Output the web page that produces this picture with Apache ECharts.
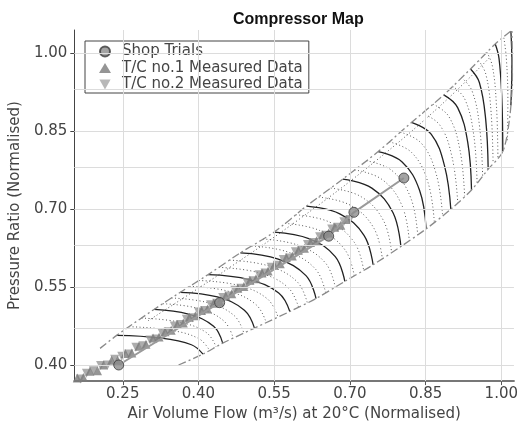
<!DOCTYPE html>
<html><head><meta charset="utf-8">
<script src="https://cdn.jsdelivr.net/npm/echarts@6/dist/echarts.min.js"></script>
<style>html,body{margin:0;padding:0;background:#fff}#c{width:521px;height:427px}</style>
</head><body><div id="c"></div>
<script>
// ---- Axis ticks ----
const xTicks = [0.25, 0.40, 0.55, 0.70, 0.85, 1.00];
const yTicks = [0.40, 0.55, 0.70, 0.85, 1.00];
const yGrid = [0.40, 0.475, 0.55, 0.625, 0.70, 0.775, 0.85, 0.925, 1.00];

// ---- Shop trials ----
const shopTrials = [[0.242,0.400],[0.442,0.520],[0.658,0.648],[0.708,0.694],[0.807,0.760]];

// ---- T/C measured data ----
const tc1 = [[0.160,0.375],[0.172,0.376],[0.185,0.388],[0.200,0.389],[0.212,0.400],[0.228,0.409],[0.240,0.409],
 [0.255,0.422],[0.268,0.423],[0.282,0.436],[0.296,0.440],[0.310,0.452],[0.322,0.454],[0.334,0.464],[0.346,0.467],
 [0.358,0.478],[0.370,0.481],[0.382,0.492],[0.394,0.495],[0.406,0.505],[0.418,0.508],[0.430,0.519],[0.442,0.522],
 [0.454,0.533],[0.466,0.537],[0.478,0.548],[0.490,0.551],[0.502,0.563],[0.514,0.566],[0.526,0.577],[0.538,0.581],
 [0.550,0.592],[0.562,0.595],[0.574,0.607],[0.586,0.610],[0.598,0.621],[0.610,0.625],[0.622,0.636],[0.634,0.639],
 [0.646,0.651],[0.658,0.654],[0.670,0.665],[0.682,0.669],[0.694,0.680]];
const tc2 = [[0.166,0.373],[0.178,0.384],[0.192,0.389],[0.206,0.399],[0.220,0.400],[0.234,0.411],[0.248,0.417],
 [0.262,0.421],[0.276,0.434],[0.290,0.437],[0.304,0.448],[0.316,0.450],[0.328,0.461],[0.340,0.464],[0.352,0.475],
 [0.364,0.478],[0.376,0.488],[0.388,0.491],[0.400,0.502],[0.412,0.505],[0.424,0.516],[0.436,0.519],[0.448,0.530],
 [0.460,0.533],[0.472,0.544],[0.484,0.548],[0.496,0.559],[0.508,0.562],[0.520,0.574],[0.532,0.577],[0.544,0.588],
 [0.556,0.592],[0.568,0.603],[0.580,0.606],[0.592,0.618],[0.604,0.621],[0.616,0.632],[0.628,0.636],[0.640,0.647],
 [0.652,0.650],[0.664,0.662],[0.676,0.665],[0.688,0.676],[0.700,0.680]];

// ---- Map boundaries ----
const surgeLine = [[0.205,0.432],[0.238,0.457],[0.312,0.507],[0.364,0.540],[0.419,0.574],[0.483,0.616],[0.550,0.656],
 [0.614,0.706],[0.686,0.758],[0.756,0.811],[0.822,0.867],[0.886,0.920],[0.939,0.970],[0.988,1.018],[1.019,1.043]];
const chokeLine = [[0.3605,0.400],[0.409,0.421],[0.448,0.442],[0.511,0.471],[0.581,0.503],[0.633,0.528],[0.690,0.561],
 [0.746,0.593],[0.801,0.628],[0.851,0.662],[0.900,0.700],[0.941,0.737],[0.974,0.777],[1.003,0.811],[1.017,0.880],
 [1.022,0.960],[1.021,1.043]];

// ---- Speed lines (solid) ----
const speedLines = [
 [[0.238,0.457],[0.3235,0.452],[0.386,0.439],[0.409,0.421]],
 [[0.312,0.507],[0.380,0.498],[0.430,0.4745],[0.448,0.442]],
 [[0.364,0.540],[0.4375,0.531],[0.491,0.5055],[0.511,0.471]],
 [[0.419,0.574],[0.500,0.5645],[0.559,0.5385],[0.581,0.503]],
 [[0.483,0.616],[0.558,0.604],[0.613,0.572],[0.633,0.528]],
 [[0.550,0.656],[0.620,0.643],[0.671,0.6085],[0.690,0.561]],
 [[0.614,0.706],[0.680,0.691],[0.728,0.6495],[0.746,0.593]],
 [[0.686,0.758],[0.7435,0.7405],[0.7855,0.693],[0.801,0.628]],
 [[0.756,0.811],[0.8035,0.791],[0.838,0.7365],[0.851,0.662]],
 [[0.822,0.867],[0.861,0.8445],[0.8875,0.7835],[0.900,0.700]],
 [[0.886,0.920],[0.9135,0.8955],[0.9335,0.8285],[0.941,0.737]],
 [[0.939,0.970],[0.9565,0.944],[0.969,0.8735],[0.974,0.777]],
 [[0.988,1.018],[0.9955,0.990],[1.001,0.9145],[1.003,0.811]],
 [[1.019,1.043],[1.021,0.980],[1.019,0.900]]
];

// ---- Efficiency contours (dotted) ----
const effContours = [
 [[0.2627,0.4737],[0.3423,0.4673],[0.4007,0.4508],[0.4220,0.4280]],
 [[0.2873,0.4903],[0.3612,0.4827],[0.4153,0.4627],[0.4350,0.4350]],
 [[0.3293,0.5180],[0.3992,0.5090],[0.4503,0.4848],[0.4690,0.4517]],
 [[0.3467,0.5290],[0.4183,0.5200],[0.4707,0.4952],[0.4900,0.4613]],
 [[0.3823,0.5513],[0.4583,0.5422],[0.5137,0.5165],[0.5343,0.4817]],
 [[0.4007,0.5627],[0.4792,0.5533],[0.5363,0.5275],[0.5577,0.4923]],
 [[0.4403,0.5880],[0.5193,0.5777],[0.5770,0.5497],[0.5983,0.5113]],
 [[0.4617,0.6020],[0.5387,0.5908],[0.5950,0.5608],[0.6157,0.5197]],
 [[0.5053,0.6293],[0.5787,0.6170],[0.6323,0.5842],[0.6520,0.5390]],
 [[0.5277,0.6427],[0.5993,0.6300],[0.6517,0.5963],[0.6710,0.5500]],
 [[0.5713,0.6727],[0.6400,0.6590],[0.6900,0.6222],[0.7087,0.5717]],
 [[0.5927,0.6893],[0.6600,0.6750],[0.7090,0.6358],[0.7273,0.5823]],
 [[0.6380,0.7233],[0.7012,0.7075],[0.7472,0.6640],[0.7643,0.6047]],
 [[0.6620,0.7407],[0.7223,0.7240],[0.7663,0.6785],[0.7827,0.6163]],
 [[0.7093,0.7757],[0.7635,0.7573],[0.8030,0.7075],[0.8177,0.6393]],
 [[0.7327,0.7933],[0.7835,0.7742],[0.8205,0.7220],[0.8343,0.6507]],
 [[0.7780,0.8297],[0.8227,0.8088],[0.8545,0.7522],[0.8673,0.6747]],
 [[0.8000,0.8483],[0.8418,0.8267],[0.8710,0.7678],[0.8837,0.6873]],
 [[0.8433,0.8847],[0.8785,0.8615],[0.9028,0.7985],[0.9137,0.7123]],
 [[0.8647,0.9023],[0.8960,0.8785],[0.9182,0.8135],[0.9273,0.7247]],
 [[0.9037,0.9367],[0.9278,0.9117],[0.9453,0.8435],[0.9520,0.7503]],
 [[0.9213,0.9533],[0.9420,0.9278],[0.9570,0.8585],[0.9630,0.7637]],
 [[0.9553,0.9860],[0.9695,0.9593],[0.9797,0.8872],[0.9837,0.7883]],
 [[0.9717,1.0020],[0.9825,0.9747],[0.9903,0.9008],[0.9933,0.7997]],
 [[1.0050,1.0300],[1.0100,0.9900],[1.0130,0.9100],[1.0120,0.8300]],
 [[0.300,0.485],[0.450,0.580],[0.600,0.681],[0.750,0.792],[0.880,0.900],[0.980,0.995]]
];

const chart = echarts.init(document.getElementById('c'));
const series = [];
effContours.forEach(d => series.push({type:'line', data:d, smooth:0.4, symbol:'none', silent:true,
  lineStyle:{color:'#555', width:1, type:[1,2.5]}, z:1}));
speedLines.forEach(d => series.push({type:'line', data:d, smooth:0.4, symbol:'none', silent:true,
  lineStyle:{color:'#222', width:1.3}, z:2}));
series.push({type:'line', data:surgeLine, smooth:0.3, symbol:'none', silent:true,
  lineStyle:{color:'#8a8a8a', width:1.3, type:[8,3,2,3]}, z:2});
series.push({type:'line', data:chokeLine, smooth:0.3, symbol:'none', silent:true,
  lineStyle:{color:'#8a8a8a', width:1.3, type:[8,3,2,3]}, z:2});
series.push({name:'T/C no.2 Measured Data', type:'scatter', data:tc2, symbol:'path://M0,0L10,0L5,9Z', symbolSize:9,
  itemStyle:{color:'#999999'}, z:3});
series.push({name:'T/C no.1 Measured Data', type:'scatter', data:tc1, symbol:'triangle', symbolSize:9,
  itemStyle:{color:'#7a7a7a'}, z:3});
series.push({type:'line', data:shopTrials, symbol:'none', silent:true,
  lineStyle:{color:'#9a9a9a', width:2}, z:4});
series.push({name:'Shop Trials', type:'scatter', data:shopTrials, symbol:'circle', symbolSize:10,
  itemStyle:{color:'#8c8c8c', borderColor:'#3a3a3a', borderWidth:1}, z:5});

// gridlines via markLine on a helper series
series.push({type:'line', data:[], silent:true, z:0,
  markLine:{symbol:'none', silent:true, label:{show:false}, lineStyle:{color:'#dcdcdc', width:1, type:'solid'},
    data: xTicks.map(v => ({xAxis:v})).concat(yGrid.map(v => ({yAxis:v})))}});

chart.setOption({
  animation:false,
  textStyle:{fontFamily:'DejaVu Sans'},
  title:{text:'Compressor Map', left:228, top:7,
    textStyle:{fontFamily:'Liberation Sans', fontWeight:'bold', fontSize:16, color:'#111'}},
  legend:{orient:'vertical', left:85, top:41, padding:[3,6,1,14], itemGap:1.5, itemWidth:12, itemHeight:10,
    borderColor:'#444', borderWidth:1, backgroundColor:'#fff',
    textStyle:{fontSize:15, color:'#444', fontFamily:'DejaVu Sans', padding:[0,0,0,6]},
    data:[{name:'Shop Trials', icon:'circle'},
          {name:'T/C no.1 Measured Data', icon:'triangle'},
          {name:'T/C no.2 Measured Data', icon:'path://M0,0L10,0L5,9Z', itemStyle:{color:'#a6a6a6'}}]},
  grid:{left:74, right:0, top:30, bottom:44},
  xAxis:{type:'value', min:0.154, max:1.025,
    name:'Air Volume Flow (m³/s) at 20°C (Normalised)', nameLocation:'middle', nameGap:23,
    nameTextStyle:{fontSize:15, color:'#444'},
    axisLine:{lineStyle:{color:'#777', width:2}},
    axisTick:{customValues:xTicks, length:4, lineStyle:{color:'#555'}},
    axisLabel:{customValues:xTicks, fontSize:15, color:'#444', margin:6, formatter:v=>v.toFixed(2)},
    splitLine:{show:false}},
  yAxis:{type:'value', min:0.369, max:1.045,
    name:'Pressure Ratio (Normalised)', nameLocation:'middle', nameGap:48,
    nameTextStyle:{fontSize:15, color:'#444'},
    axisLine:{show:true, lineStyle:{color:'#444', width:1}},
    axisTick:{show:true, customValues:yTicks, length:4, lineStyle:{color:'#444'}},
    axisLabel:{customValues:yTicks, fontSize:15, color:'#444', margin:7, formatter:v=>v.toFixed(2)},
    splitLine:{show:false}},
  series:series
});
</script></body></html>
